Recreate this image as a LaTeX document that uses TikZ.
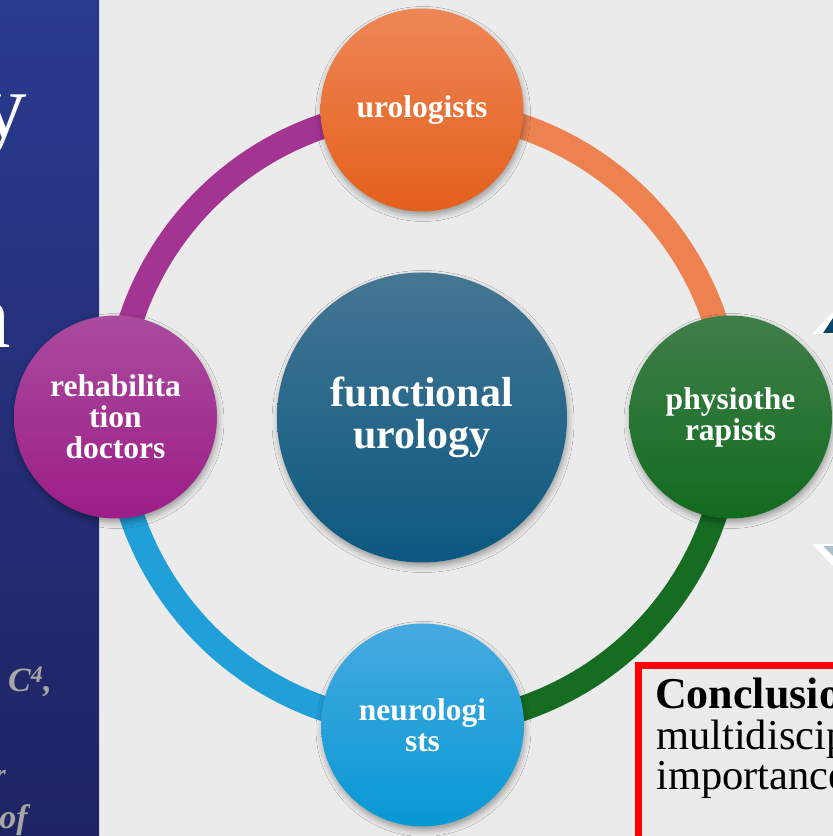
\documentclass[tikz,border=0pt]{standalone}
\usepackage{fontspec}
\setmainfont{Liberation Serif}
\usetikzlibrary{shadows.blur, positioning}
\definecolor{slidebg}{HTML}{EBEBEB}
\definecolor{paneltop}{HTML}{2A3A8E}
\definecolor{panelbot}{HTML}{1E2463}
\definecolor{orangetop}{HTML}{EE8656}
\definecolor{orangebot}{HTML}{E3601B}
\definecolor{greentop}{HTML}{3F7F4A}
\definecolor{greenbot}{HTML}{126B1E}
\definecolor{bluetop}{HTML}{46AAE0}
\definecolor{bluebot}{HTML}{0798D4}
\definecolor{purpletop}{HTML}{AA4B9D}
\definecolor{purplebot}{HTML}{9C1D88}
\definecolor{hubtop}{HTML}{457693}
\definecolor{hubbot}{HTML}{0B5880}
\definecolor{authorgrey}{HTML}{A6A6A6}
\pgfdeclarelayer{back}
\pgfsetlayers{back,main}

\begin{document}
\begin{tikzpicture}[x=1pt, y=1pt,
  every node/.style = {inner sep=0pt, align=center},
  member/.style = {shape=circle, minimum size=203pt, text=white,
    font=\bfseries\fontsize{31.5}{31}\selectfont,
    blur shadow={shadow xshift=1pt, shadow yshift=-4pt, shadow blur radius=6pt, shadow opacity=35}},
  hub/.style = {member, minimum size=290pt, font=\bfseries\fontsize{42}{41.5}\selectfont},
  ring/.style = {line width=25pt},
  titlebit/.style = {text=white, font=\fontsize{93}{93}\selectfont},
  authorbit/.style = {text=authorgrey, font=\bfseries\itshape\fontsize{34}{34}\selectfont},
  conclbit/.style = {text=black, font=\fontsize{42.5}{40}\selectfont}]
  \useasboundingbox (0,0) rectangle (833,836);
  \clip (0,0) rectangle (833,836);

  \node[hub, top color=hubtop, bottom color=hubbot] (cen) at (422,418.5) {functional\\urology};
  \node[member, top color=orangetop, bottom color=orangebot] (uro) at (422,726) {urologists};
  \node[member, top color=greentop, bottom color=greenbot] (phy) at (730.5,419) {physiothe\\rapists};
  \node[member, top color=bluetop, bottom color=bluebot] (neu) at (422.5,111) {neurologi\\sts};
  \node[member, top color=purpletop, bottom color=purplebot] (reh) at (115.5,419) {rehabilita\\tion\\doctors};

  \begin{pgfonlayer}{back}
    \fill[slidebg] (0,0) rectangle (833,836);
    \fill[top color=paneltop, bottom color=panelbot] (0,0) rectangle (99,836);
    \draw[ring, draw=orangetop!90!orangebot] (uro.center) to[out=0, in=90] (phy.center);
    \draw[ring, draw=greenbot!90!greentop] (phy.center) to[out=270, in=0] (neu.center);
    \draw[ring, draw=bluetop!40!bluebot] (neu.center) to[out=180, in=270] (reh.center);
    \draw[ring, draw=purpletop!50!purplebot] (reh.center) to[out=90, in=180] (uro.center);
  \end{pgfonlayer}

  % slide title and authors, cut by the page edge
  \node[titlebit, anchor=base east] (ty) at (27.5,698) {y};
  \node[titlebit, anchor=base east] (tn) at (11.5,488) {n};
  \node[authorbit, anchor=base west] (au) at (8,144) {C\textsuperscript{4},};
  \node[authorbit, anchor=base east, font=\bfseries\itshape\fontsize{28}{28}\selectfont] (ar) at (6,52) {r};
  \node[authorbit, anchor=base east] (ao) at (28,8) {of};

  \fill[white] (812,502) -- (833,524) -- (833,502) -- cycle;
  \fill[hubbot!80!black] (823,503) -- (833,518) -- (833,503) -- cycle;
  \fill[white] (812,292) -- (833,292) -- (833,270) -- cycle;
  \fill[hubtop!45!white] (823,290) -- (833,290) -- (833,280) -- cycle;

  \draw[red, line width=7pt, fill=slidebg] (638,170) rectangle (880,-30);
  \node[conclbit, anchor=base west, font=\bfseries\fontsize{44}{40}\selectfont] (cl) at (655,127) {Conclusio};
  \node[conclbit, anchor=base west] (c2) at (656,86) {multidiscip};
  \node[conclbit, anchor=base west] (c3) at (656,46) {importance};
\end{tikzpicture}
\end{document}
